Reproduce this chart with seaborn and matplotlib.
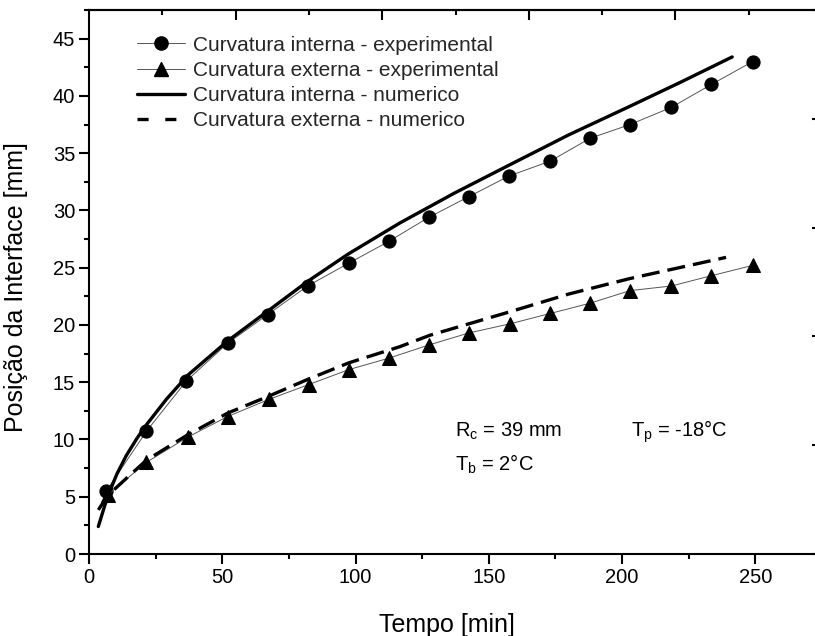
import matplotlib
matplotlib.use("Agg")
import matplotlib.pyplot as plt
import seaborn as sns
import pandas as pd
from matplotlib.ticker import MultipleLocator, FixedLocator, NullFormatter
from matplotlib.lines import Line2D

# ---- data ----
t_int_exp = [6.5, 21.5, 36.5, 52, 67, 82, 97.5, 112.5, 127.5, 142.5, 157.5, 173, 188, 203, 218.5, 233.5, 249]
y_int_exp = [5.5, 10.7, 15.1, 18.4, 20.9, 23.4, 25.4, 27.3, 29.4, 31.2, 33.0, 34.3, 36.3, 37.5, 39.0, 41.0, 43.0]
t_ext_exp = [7, 21.5, 37, 52, 67.5, 82.5, 97.5, 112.5, 127.5, 142.5, 158, 173, 188, 203, 218.5, 233.5, 249]
y_ext_exp = [5.15, 8.0, 10.2, 12.0, 13.5, 14.8, 16.1, 17.1, 18.25, 19.3, 20.1, 21.0, 21.9, 23.0, 23.4, 24.3, 25.2]
t_int_num = [3.5, 6, 8, 10.5, 14, 18, 21.6, 29, 37, 52, 67.6, 82, 97.3, 116.6, 137, 158, 180, 203, 222, 241.3]
y_int_num = [2.4, 4.3, 5.6, 7.0, 8.6, 10.1, 11.3, 13.5, 15.6, 18.6, 21.3, 23.8, 26.2, 28.9, 31.5, 34.0, 36.6, 39.1, 41.2, 43.4]
t_ext_num = [3.5, 7.2, 15.4, 21.6, 37, 52, 67.6, 82.6, 97.6, 116.6, 127.9, 157.9, 180, 202.9, 239]
y_ext_num = [3.85, 5.15, 6.9, 8.2, 10.4, 12.3, 13.8, 15.3, 16.7, 18.1, 19.1, 21.15, 22.7, 24.05, 25.9]

labels = ["Curvatura interna - experimental", "Curvatura externa - experimental",
          "Curvatura interna - numerico", "Curvatura externa - numerico"]
xticks_bottom = [0, 50, 100, 150, 200, 250]
yticks_left = [0, 5, 10, 15, 20, 25, 30, 35, 40, 45]
xticks_top_major = [55, 110, 165, 220, 275]
xticks_top_minor = [27.5, 82.5, 137.5, 192.5, 247.5]
yticks_right = [0, 9.5, 19, 28.5, 38, 47.5]

sns.set_style("ticks")
plt.rcParams["font.family"] = ["Liberation Sans", "DejaVu Sans"]
plt.rcParams["mathtext.fontset"] = "custom"
plt.rcParams["mathtext.rm"] = "Liberation Sans"
plt.rcParams["mathtext.it"] = "Liberation Sans"
plt.rcParams["lines.scale_dashes"] = False

fig = plt.figure(figsize=(8.15, 6.36), dpi=100)
ax = fig.add_axes([89/815, (636-554)/636, (822-89)/815, (554-10)/636])

df_ie = pd.DataFrame({"t": t_int_exp, "y": y_int_exp})
df_ee = pd.DataFrame({"t": t_ext_exp, "y": y_ext_exp})
df_in = pd.DataFrame({"t": t_int_num, "y": y_int_num})
df_en = pd.DataFrame({"t": t_ext_num, "y": y_ext_num})

exp_line_kw = dict(color="#555555", linewidth=0.7, markerfacecolor="black",
                   markeredgecolor="black", markersize=9.5, sort=False, estimator=None)
sns.lineplot(data=df_ie, x="t", y="y", ax=ax, marker="o", **exp_line_kw)
sns.lineplot(data=df_ee, x="t", y="y", ax=ax, marker="^", **{**exp_line_kw, "markersize": 10.5})
sns.lineplot(data=df_in, x="t", y="y", ax=ax, color="black", linewidth=2.4, sort=False, estimator=None)
dash = (0, (13, 5.8))
sns.lineplot(data=df_en, x="t", y="y", ax=ax, color="black", linewidth=2.4, sort=False,
             estimator=None, linestyle=dash)

ax.set_xlim(0, 275)
ax.set_ylim(0, 47.5)
ax.xaxis.set_major_locator(FixedLocator(xticks_bottom))
ax.xaxis.set_minor_locator(MultipleLocator(25))
ax.yaxis.set_major_locator(FixedLocator(yticks_left))
ax.yaxis.set_minor_locator(MultipleLocator(2.5))
ax.tick_params(axis="both", which="major", direction="out", length=7, width=1.5,
               labelsize=14.5, color="black", labelcolor="black", pad=3)
ax.tick_params(axis="both", which="minor", direction="out", length=3.8, width=1.5, color="black")
for s in ["left", "bottom", "top", "right"]:
    ax.spines[s].set_linewidth(1.5)
    ax.spines[s].set_color("black")

# top & right auxiliary ticks
secx = ax.secondary_xaxis("top")
secx.set_xticks(xticks_top_major)
secx.set_xticks(xticks_top_minor, minor=True)
secx.xaxis.set_major_formatter(NullFormatter())
secx.tick_params(which="major", direction="in", length=7.5, width=1.5, color="black")
secx.tick_params(which="minor", direction="in", length=3.8, width=1.5, color="black")
secx.spines["top"].set_linewidth(1.5)
secy = ax.secondary_yaxis("right")
secy.set_yticks(yticks_right)
secy.yaxis.set_major_formatter(NullFormatter())
secy.tick_params(which="major", direction="in", length=7.5, width=1.5, color="black")
secy.spines["right"].set_linewidth(1.5)

ax.set_xlabel("Tempo [min]", fontsize=18, color="black")
ax.set_ylabel("Posição da Interface [mm]", fontsize=18, color="black")
ax.xaxis.set_label_coords(0.488, -0.108)
ax.yaxis.set_label_coords(-0.083, 0.49)

handles = [
    Line2D([], [], color="#555555", lw=0.7, marker="o", markersize=9.5, markerfacecolor="black", markeredgecolor="black"),
    Line2D([], [], color="#555555", lw=0.7, marker="^", markersize=10.5, markerfacecolor="black", markeredgecolor="black"),
    Line2D([], [], color="black", lw=2.4),
    Line2D([], [], color="black", lw=2.4, linestyle=(0, (8, 12))),
]
leg = ax.legend(handles, labels, loc="upper left", bbox_to_anchor=(0.054, 0.968), frameon=False,
                fontsize=15, handlelength=2.3, handletextpad=0.4, labelspacing=0.3,
                borderaxespad=0)

tk = dict(fontsize=14.5, color="black")
ax.text(137.2, 10.25, r"R$_{\mathrm{c}}$ = 39 mm", **tk)
ax.text(203.2, 10.25, r"T$_{\mathrm{p}}$ = -18°C", **tk)
ax.text(137.2, 7.3, r"T$_{\mathrm{b}}$ = 2°C", **tk)

fig.savefig("out.png", dpi=100)
